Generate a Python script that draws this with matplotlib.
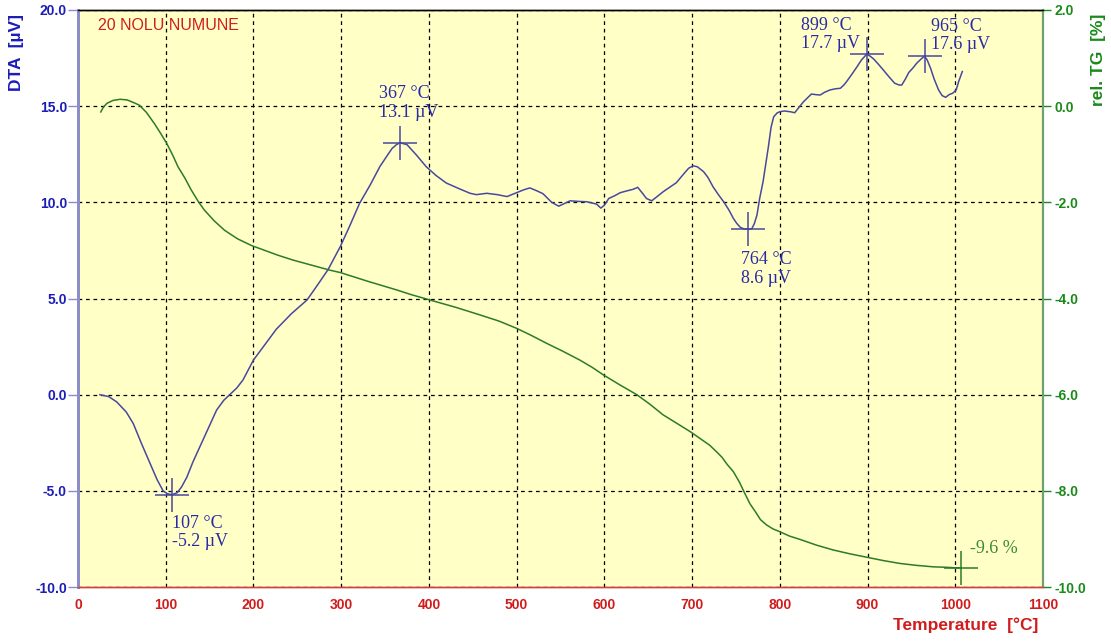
import matplotlib
matplotlib.use("Agg")
import matplotlib.pyplot as plt
from matplotlib.ticker import FixedLocator, FormatStrFormatter

# DTA signal (µV) vs. temperature (°C)
dta_temp = [25, 35, 44, 55, 63, 72, 82, 90, 97, 102, 107, 113, 118, 124, 131, 139, 148, 158,
            166, 173, 181, 188, 200, 213, 226, 243, 261, 273, 285, 299, 310, 321, 333, 344,
            352, 358, 363, 367, 371, 375, 385, 397, 408, 420, 435, 447, 454, 466, 478, 489,
            500, 508, 515, 523, 530, 540, 548, 555, 561, 570, 580, 591, 596, 600, 605, 612,
            618, 626, 633, 638, 643, 648, 654, 660, 667, 675, 682, 689, 696, 701, 706, 713,
            718, 724, 730, 736, 742, 747, 751, 755, 759, 764, 768, 771, 774, 777, 781, 784,
            787, 790, 793, 797, 800, 805, 812, 817, 822, 827, 832, 836, 841, 846, 851, 857,
            863, 869, 873, 876, 882, 888, 893, 899, 903, 907, 912, 918, 924, 931, 936, 939,
            943, 947, 952, 956, 961, 965, 968, 972, 976, 981, 985, 989, 993, 997, 1001, 1004,
            1008]
dta_uv = [0.0, -0.1, -0.37, -0.9, -1.5, -2.5, -3.56, -4.4, -5.0, -5.15, -5.2, -5.1, -4.8,
          -4.3, -3.5, -2.7, -1.8, -0.8, -0.3, 0.0, 0.35, 0.76, 1.8, 2.6, 3.4, 4.2, 4.92, 5.7,
          6.5, 7.7, 8.8, 9.95, 10.9, 11.85, 12.4, 12.8, 13.0, 13.1, 13.05, 13.0, 12.5, 11.85,
          11.4, 11.0, 10.7, 10.47, 10.4, 10.47, 10.4, 10.3, 10.5, 10.65, 10.75, 10.6, 10.45,
          10.0, 9.8, 9.95, 10.08, 10.05, 10.03, 9.91, 9.7, 9.85, 10.2, 10.35, 10.5, 10.6,
          10.68, 10.78, 10.5, 10.2, 10.08, 10.3, 10.55, 10.8, 11.02, 11.4, 11.77, 11.9, 11.85,
          11.6, 11.3, 10.8, 10.4, 10.03, 9.6, 9.17, 8.9, 8.7, 8.62, 8.6, 8.62, 8.9, 9.35, 10.2,
          11.1, 12.0, 12.9, 13.9, 14.45, 14.65, 14.71, 14.75, 14.71, 14.66, 14.95, 15.23,
          15.45, 15.63, 15.6, 15.58, 15.72, 15.84, 15.9, 15.93, 16.1, 16.27, 16.65, 17.05,
          17.4, 17.7, 17.6, 17.45, 17.2, 16.88, 16.55, 16.19, 16.1, 16.1, 16.4, 16.75, 17.0,
          17.23, 17.45, 17.6, 17.4, 16.95, 16.4, 15.84, 15.55, 15.46, 15.6, 15.67, 15.84,
          16.3, 16.8]

# Relative mass change (TG, %) vs. temperature (°C)
tg_temp = [26, 29, 33, 40, 48, 56, 64, 70, 78, 87, 94, 101, 108, 114, 122, 129, 137, 144,
           155, 167, 182, 198, 213, 228, 245, 265, 287, 299, 330, 363, 380, 401, 430, 458,
           480, 500, 517, 534, 553, 572, 586, 599, 618, 637, 652, 667, 683, 698, 709, 720,
           728, 734, 740, 747, 754, 760, 766, 772, 778, 785, 792, 800, 811, 823, 842, 861,
           880, 899, 918, 937, 956, 975, 990, 1000, 1006]
tg_pct = [-0.12, -0.02, 0.06, 0.12, 0.143, 0.13, 0.07, 0.02, -0.13, -0.36, -0.56, -0.77,
          -1.02, -1.26, -1.5, -1.74, -1.98, -2.16, -2.38, -2.58, -2.76, -2.9, -3.0, -3.1,
          -3.2, -3.3, -3.41, -3.46, -3.64, -3.82, -3.92, -4.03, -4.18, -4.34, -4.47, -4.62,
          -4.77, -4.93, -5.1, -5.28, -5.43, -5.59, -5.8, -6.0, -6.2, -6.42, -6.6, -6.77,
          -6.91, -7.05, -7.19, -7.3, -7.45, -7.6, -7.82, -8.05, -8.27, -8.43, -8.6, -8.71,
          -8.79, -8.85, -8.94, -9.01, -9.13, -9.23, -9.31, -9.38, -9.45, -9.51, -9.55,
          -9.58, -9.59, -9.6, -9.6]

# Marked DTA peaks: temperature (°C), signal (µV)
peak_temp = [107, 367, 764, 899, 965]
peak_uv = [-5.2, 13.1, 8.6, 17.7, 17.6]
# label offsets in pixels and vertical alignment for each peak label
peak_offsets = [(0, -20, "top"), (-21, 22, "bottom"), (-7, -22, "top"),
                (-66, 2, "bottom"), (6, 3, "bottom")]

# Final TG value
tg_final = -9.6

x_ticks = list(range(0, 1101, 100))
dta_ticks = [-10.0, -5.0, 0.0, 5.0, 10.0, 15.0, 20.0]
tg_ticks = [-10.0, -8.0, -6.0, -4.0, -2.0, 0.0, 2.0]

BLUE_TXT = "#1c1cb8"
BLUE_LINE = "#4848a0"
BLUE_ANN = "#2a2aa6"
GREEN_TXT = "#1a8a1a"
GREEN_LINE = "#2c7a2c"
RED_TXT = "#d01c1c"
SANS = ["Liberation Sans", "DejaVu Sans"]
SERIF = ["Liberation Serif", "DejaVu Serif"]

fig = plt.figure(figsize=(11.11, 6.41), dpi=100)
ax = fig.add_axes([0.0702, 0.0842, 0.8686, 0.9002])
ax.set_facecolor("#ffffc6")
ax2 = ax.twinx()

ax.set_xlim(0, 1100)
ax.set_ylim(-10, 20)
ax2.set_ylim(-10, 2)

ax.xaxis.set_major_locator(FixedLocator(x_ticks))
ax.yaxis.set_major_locator(FixedLocator(dta_ticks))
ax2.yaxis.set_major_locator(FixedLocator(tg_ticks))
ax.yaxis.set_major_formatter(FormatStrFormatter("%.1f"))
ax2.yaxis.set_major_formatter(FormatStrFormatter("%.1f"))

ax.grid(True, color="black", linestyle=(0, (3, 3)), linewidth=0.9)

# spines
for a in (ax, ax2):
    a.spines["left"].set_color("#8c8cc8")
    a.spines["left"].set_linewidth(2.0)
    a.spines["bottom"].set_color("#d04040")
    a.spines["bottom"].set_linewidth(1.0)
    a.spines["right"].set_color("#70a070")
    a.spines["right"].set_linewidth(1.5)
    a.spines["top"].set_color("black")
    a.spines["top"].set_linewidth(1.0)

ax.tick_params(axis="y", direction="out", length=7, width=1, color="#8c8cc8",
               labelcolor=BLUE_TXT, pad=1)
ax.tick_params(axis="x", length=0, labelcolor=RED_TXT, pad=8)
ax2.tick_params(axis="y", direction="out", length=6, width=1, color=GREEN_TXT,
                labelcolor=GREEN_TXT, pad=2)
for lbl in ax.get_yticklabels() + ax.get_xticklabels() + ax2.get_yticklabels():
    lbl.set_fontfamily(SANS)
    lbl.set_fontsize(10)
    lbl.set_fontweight("bold")

# curves
ax.plot(dta_temp, dta_uv, color=BLUE_LINE, linewidth=1.1, zorder=3)
ax2.plot(tg_temp, tg_pct, color=GREEN_LINE, linewidth=1.1, zorder=3)

# peak markers and labels
for t, v, (dx, dy, va) in zip(peak_temp, peak_uv, peak_offsets):
    ax.plot([t], [v], marker="+", markersize=24, markeredgewidth=1.1,
            color=BLUE_LINE, zorder=4)
    ax.annotate(f"{t} °C\n{v:.1f} µV", xy=(t, v), xytext=(dx, dy),
                textcoords="offset pixels", ha="left", va=va, color=BLUE_ANN,
                fontsize=13, family=SERIF, linespacing=1.1, zorder=5)

ax2.plot([tg_temp[-1]], [tg_final], marker="+", markersize=24, markeredgewidth=1.1,
         color=GREEN_LINE, zorder=4)
ax2.annotate(f"{tg_final:.1f} %", xy=(tg_temp[-1], tg_final), xytext=(9, 19),
             textcoords="offset pixels", ha="left", va="center", color="#3a8a3a",
             fontsize=13, family=SERIF)

# titles and axis labels
ax.text(0.021, 0.974, "20 NOLU NUMUNE", transform=ax.transAxes, ha="left", va="center",
        color=RED_TXT, fontsize=11.5, family=SANS)
ax.set_ylabel("DTA  [µV]", color=BLUE_TXT, fontsize=12.5, fontweight="bold", family=SANS,
              rotation=90, ha="center", va="center")
ax.yaxis.set_label_coords(-0.064, 0.927)
ax2.set_ylabel("rel. TG  [%]", color=GREEN_TXT, fontsize=12.5, fontweight="bold",
               family=SANS, rotation=90, ha="center", va="center")
ax2.yaxis.set_label_coords(1.058, 0.913)
ax.set_xlabel("Temperature  [°C]", color=RED_TXT, fontsize=12.5, fontweight="bold",
              family=SANS, ha="center", va="center")
ax.xaxis.set_label_coords(0.920, -0.066)

fig.savefig("out.png", dpi=100)
